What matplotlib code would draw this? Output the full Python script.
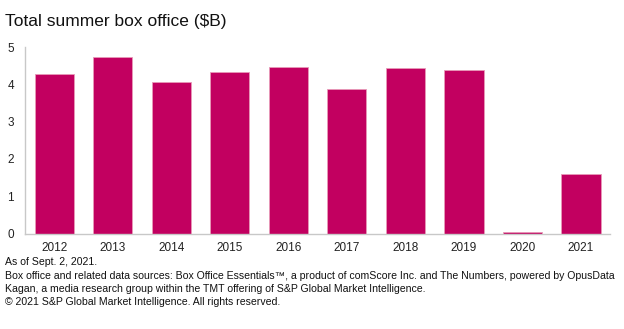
import matplotlib
matplotlib.use("Agg")
import matplotlib.pyplot as plt
import numpy as np

# data
years = ['2012', '2013', '2014', '2015', '2016', '2017', '2018', '2019', '2020', '2021']
box_office = [4.28, 4.72, 4.06, 4.34, 4.47, 3.87, 4.43, 4.39, 0.03, 1.61]
yticks = [0, 1, 2, 3, 4, 5]

title = 'Total summer box office ($B)'
notes = [
    'As of Sept. 2, 2021.',
    'Box office and related data sources: Box Office Essentials\u2122, a product of comScore Inc. and The Numbers, powered by OpusData',
    'Kagan, a media research group within the TMT offering of S&P Global Market Intelligence.',
    '\u00a9 2021 S&P Global Market Intelligence. All rights reserved.',
]

plt.rcParams['font.family'] = ['Liberation Sans', 'DejaVu Sans']

fig = plt.figure(figsize=(6.24, 3.29), dpi=100)
ax = fig.add_axes([0.040, 0.290, 0.938, 0.567])

x = np.arange(len(years))
ax.bar(x, box_office, width=0.67, color='#C20060', edgecolor='#E89AB8', linewidth=0.6)

ax.set_xlim(-0.5, len(years) - 0.5)
ax.set_ylim(0, 5)
ax.set_xticks(x)
ax.set_xticklabels(years)
ax.set_yticks(yticks)
ax.tick_params(axis='both', length=0, labelsize=8.5, colors='#222222')
ax.tick_params(axis='x', pad=6)
ax.tick_params(axis='y', pad=8)

for side in ['top', 'right']:
    ax.spines[side].set_visible(False)
for side in ['left', 'bottom']:
    ax.spines[side].set_color('#C8C8C8')
    ax.spines[side].set_linewidth(1.0)

fig.text(0.008, 0.935, title, fontsize=12.5, color='#111111', va='center', ha='left')

y0 = 0.203
for i, line in enumerate(notes):
    fig.text(0.008, y0 - i * 0.0405, line, fontsize=7.55, color='#111111', va='center', ha='left')

fig.savefig('out.png', dpi=100)
